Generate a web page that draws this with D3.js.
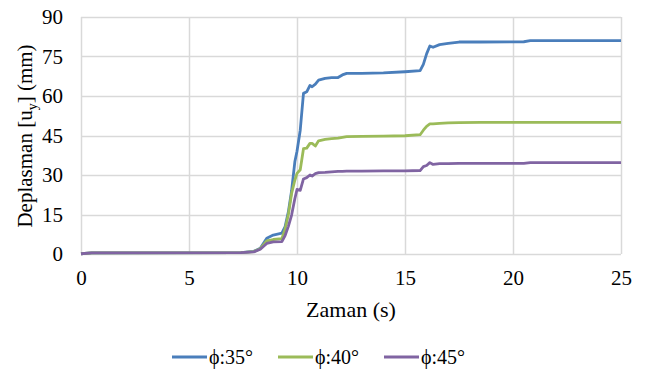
<!DOCTYPE html>
<html>
<head>
<meta charset="utf-8">
<script src="https://cdn.jsdelivr.net/npm/d3@7"></script>
<style>
    body { margin: 0; background: #fff; }
</style>
</head>
<body>
<div id="chart"></div>
<script>
// time (s) and displacement (mm)
const time = [0, 0.5, 7.4, 8.0, 8.3, 8.6, 8.9, 9.3, 9.45, 9.6, 9.75, 9.9, 10.0, 10.15, 10.3, 10.45, 10.6, 10.7, 10.85, 11.0,
    11.3, 11.6, 11.9, 12.1, 12.3, 13.0, 14.0, 15.0, 15.7, 15.85, 16.0, 16.15, 16.3, 16.6, 17.0, 17.5, 18.5, 20.5, 20.8, 25]
const phi35 = [0.1, 0.4, 0.5, 1.0, 2.2, 6.0, 7.2, 7.9, 10.4, 16, 24, 35, 39, 47, 61, 61.6, 64, 63.5, 64.5, 66,
    66.7, 67, 67, 68, 68.6, 68.6, 68.8, 69.2, 69.6, 72, 76, 79, 78.5, 79.5, 80, 80.5, 80.5, 80.6, 81, 81]
const phi40 = [0.1, 0.4, 0.5, 0.9, 2.0, 5.0, 5.5, 5.8, 9.5, 15, 23, 28, 30.6, 32, 40, 40.2, 42, 42, 41, 43,
    43.5, 43.8, 44, 44.3, 44.6, 44.7, 44.8, 44.9, 45.3, 47, 48.5, 49.4, 49.4, 49.6, 49.8, 49.9, 50, 50, 50, 50]
const phi45 = [0.1, 0.4, 0.5, 0.8, 1.8, 4.0, 4.6, 4.7, 7.0, 10.5, 14.8, 21, 24.5, 24.2, 28.5, 29, 30, 29.6, 30.5, 30.9,
    31, 31.2, 31.4, 31.4, 31.5, 31.5, 31.6, 31.6, 31.7, 33.2, 33.6, 34.7, 34, 34.3, 34.3, 34.4, 34.4, 34.4, 34.7, 34.7]

const seriesNames = ["ϕ:35°", "ϕ:40°", "ϕ:45°"]
const seriesColors = ["#4a7ebb", "#9bbb59", "#8064a2"]
const xTicks = [0, 5, 10, 15, 20, 25]
const yTicks = [0, 15, 30, 45, 60, 75, 90]

const FONT = "'Liberation Serif', serif"

const margin = { top: 17, right: 25, bottom: 124, left: 81 },
    width = 646 - margin.left - margin.right,
    height = 378 - margin.top - margin.bottom

const root = d3.select("#chart")
    .append("svg")
    .attr("width", 646)
    .attr("height", 378)

const svg = root.append("g")
    .attr("transform", "translate(" + margin.left + "," + margin.top + ")")

const x = d3.scaleLinear().domain([0, 25]).range([0, width])
const y = d3.scaleLinear().domain([0, 90]).range([height, 0])

// grid
svg.append("g")
    .selectAll("line")
    .data(yTicks)
    .join("line")
    .attr("x1", 0).attr("x2", width)
    .attr("y1", d => Math.round(y(d)) + 0.5).attr("y2", d => Math.round(y(d)) + 0.5)
    .attr("stroke", "#d9d9d9")
    .attr("stroke-width", 1.5)

svg.append("g")
    .selectAll("line")
    .data(xTicks)
    .join("line")
    .attr("y1", 0).attr("y2", height)
    .attr("x1", d => Math.round(x(d)) + 0.5).attr("x2", d => Math.round(x(d)) + 0.5)
    .attr("stroke", "#d9d9d9")
    .attr("stroke-width", 1.5)

// tick labels through d3 axes, no lines (the grid does that)
const xAxis = svg.append("g")
    .attr("transform", "translate(0," + height + ")")
    .call(d3.axisBottom(x).tickValues(xTicks).tickSize(0).tickPadding(16).tickFormat(d3.format("d")))
xAxis.select(".domain").remove()

const yAxis = svg.append("g")
    .call(d3.axisLeft(y).tickValues(yTicks).tickSize(0).tickPadding(18).tickFormat(d3.format("d")))
yAxis.select(".domain").remove()

root.selectAll(".tick text")
    .style("font-family", FONT)
    .style("font-size", "21px")
    .attr("fill", "#000")

// lines
const line = d3.line()
    .x((d, i) => x(time[i]))
    .y(d => y(d))

svg.append("g")
    .selectAll("path")
    .data([phi35, phi40, phi45])
    .join("path")
    .attr("fill", "none")
    .attr("stroke", (d, i) => seriesColors[i])
    .attr("stroke-width", 2.8)
    .attr("stroke-linejoin", "round")
    .attr("d", line)

// axis titles
root.append("text")
    .attr("x", 351)
    .attr("y", 317)
    .attr("text-anchor", "middle")
    .style("font-family", FONT)
    .style("font-size", "22px")
    .text("Zaman (s)")

const yTitle = root.append("text")
    .attr("transform", "translate(32,136) rotate(-90)")
    .attr("text-anchor", "middle")
    .style("font-family", FONT)
    .style("font-size", "21px")
yTitle.append("tspan").text("Deplasman [u")
yTitle.append("tspan").attr("dy", 5).style("font-size", "14px").text("y")
yTitle.append("tspan").attr("dy", -5).text("] (mm)")

// legend
const legendX = [172, 278, 384]
const legend = root.append("g")
    .selectAll("g")
    .data(seriesNames)
    .join("g")
    .attr("transform", (d, i) => "translate(" + legendX[i] + ",357)")
legend.append("line")
    .attr("x1", 0).attr("x2", 35)
    .attr("stroke", (d, i) => seriesColors[i])
    .attr("stroke-width", 2.8)
legend.append("text")
    .attr("x", 37)
    .attr("y", 7)
    .style("font-family", FONT)
    .style("font-size", "20px")
    .text(d => d)
</script>
</body>
</html>
